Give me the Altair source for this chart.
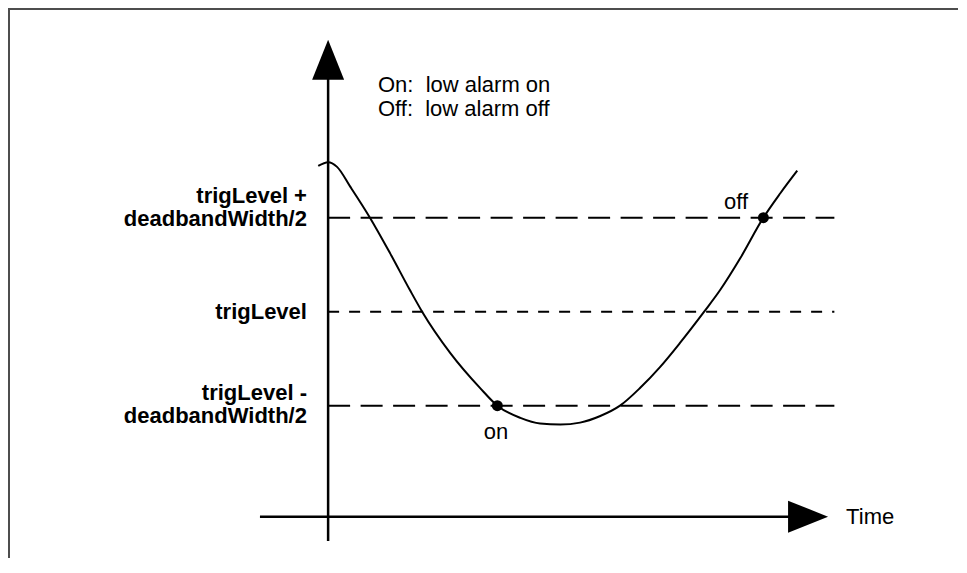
import altair as alt
import pandas as pd

# ---------------- data ----------------
# time in arbitrary units (0 = vertical axis); level in units where
# trigLevel = 0 and deadbandWidth/2 = 1
curve_t = [-0.21, 0.0, 0.19, 0.47, 0.89, 1.32, 1.74, 2.00, 2.60, 3.23, 3.60,
           4.09, 4.51, 4.94, 5.36, 5.79, 6.21, 6.64, 7.06, 7.49, 8.00, 8.34,
           8.77, 9.26, 9.62, 9.98]
curve_v = [1.55, 1.59, 1.54, 1.33, 1.00, 0.62, 0.23, 0.00, -0.44, -0.81, -1.00,
           -1.13, -1.19, -1.20, -1.18, -1.11, -1.00, -0.81, -0.59, -0.33, 0.00, 0.23,
           0.57, 1.00, 1.26, 1.50]

level_values = [1, 0, -1]
level_styles = ["long", "short", "long"]
level_start_t = 0.0
level_end_t = 10.77

event_t = [3.60, 9.26]
event_v = [-1.0, 1.0]
event_labels = ["on", "off"]
event_label_t = [3.57, 8.68]
event_label_v = [-1.28, 1.17]

level_label_text = ["trigLevel +", "deadbandWidth/2", "trigLevel",
                    "trigLevel -", "deadbandWidth/2"]
level_label_v = [1.23, 0.99, 0.0, -0.86, -1.11]
level_label_t = -0.45

note_lines = ["On:\u00a0\u00a0low alarm on", "Off:\u00a0\u00a0low alarm off"]
note_v = [2.41, 2.16]
note_t = 1.06

time_axis_v = -2.18
time_axis_start_t = -1.45
time_arrow_t = 10.21
value_axis_t = 0.0
value_axis_top_v = 2.68
value_axis_bottom_v = -2.44
time_label = ["Time"]
time_label_t = 11.02

W, H = 950, 550
X_DOMAIN = [-6.81, 13.40]
Y_DOMAIN = [-2.62, 3.23]

FONT = "Liberation Sans"

xs = alt.Scale(domain=X_DOMAIN, nice=False, zero=False)
ys = alt.Scale(domain=Y_DOMAIN, nice=False, zero=False)


def X(f):
    return alt.X(f, type="quantitative", scale=xs, axis=None)


def Y(f):
    return alt.Y(f, type="quantitative", scale=ys, axis=None)


# ---------------- tables ----------------
curve_df = pd.DataFrame({"t": curve_t, "v": curve_v})
levels_df = pd.DataFrame({"t0": [level_start_t] * len(level_values),
                          "t1": [level_end_t] * len(level_values),
                          "v": level_values, "style": level_styles})
events_df = pd.DataFrame({"t": event_t, "v": event_v})
event_lab_df = pd.DataFrame({"t": event_label_t, "v": event_label_v, "txt": event_labels})
lvl_lab_df = pd.DataFrame({"t": [level_label_t] * len(level_label_text),
                           "v": level_label_v, "txt": level_label_text})
note_df = pd.DataFrame({"t": [note_t] * len(note_lines), "v": note_v, "txt": note_lines})
time_df = pd.DataFrame({"t": [time_label_t], "v": [time_axis_v], "txt": time_label})
yaxis_df = pd.DataFrame({"t": [value_axis_t], "v0": [value_axis_bottom_v], "v1": [value_axis_top_v]})
xaxis_df = pd.DataFrame({"t0": [time_axis_start_t], "t1": [time_arrow_t], "v": [time_axis_v]})
up_arrow_df = pd.DataFrame({"t": [value_axis_t], "v": [value_axis_top_v]})
right_arrow_df = pd.DataFrame({"t": [time_arrow_t], "v": [time_axis_v]})

# ---------------- layers ----------------
frame_top = alt.Chart(pd.DataFrame({"a": [0]})).mark_rule(
    color="#4d4d4d", strokeWidth=2
).encode(x=alt.value(0), x2=alt.value(W), y=alt.value(1))
frame_left = alt.Chart(pd.DataFrame({"a": [0]})).mark_rule(
    color="#4d4d4d", strokeWidth=2
).encode(x=alt.value(1), y=alt.value(0), y2=alt.value(H))

levels = alt.Chart(levels_df).mark_rule(color="black", strokeWidth=2).encode(
    x=X("t0"), x2="t1", y=Y("v"),
    strokeDash=alt.StrokeDash("style:N", legend=None,
                              scale=alt.Scale(domain=["long", "short"],
                                              range=[[22, 10.5], [11, 10]])),
)

yaxis = alt.Chart(yaxis_df).mark_rule(color="black", strokeWidth=2.5).encode(
    x=X("t"), y=Y("v0"), y2="v1")
xaxis = alt.Chart(xaxis_df).mark_rule(color="black", strokeWidth=2.5).encode(
    x=X("t0"), x2="t1", y=Y("v"))

up_arrow = alt.Chart(up_arrow_df).mark_point(
    shape="M0,-1L0.8,1L-0.8,1Z", size=1600, filled=True, color="black",
    opacity=1, strokeWidth=0
).encode(x=X("t"), y=Y("v"))
right_arrow = alt.Chart(right_arrow_df).mark_point(
    shape="M1,0L-1,-0.8L-1,0.8Z", size=1600, filled=True, color="black",
    opacity=1, strokeWidth=0
).encode(x=X("t"), y=Y("v"))

curve = alt.Chart(curve_df).mark_line(
    color="black", strokeWidth=2, interpolate="monotone"
).encode(x=X("t"), y=Y("v"), order="t:Q")

events = alt.Chart(events_df).mark_circle(size=120, color="black", opacity=1).encode(
    x=X("t"), y=Y("v"))

event_text = alt.Chart(event_lab_df).mark_text(
    font=FONT, fontSize=22, color="black", align="center", baseline="middle"
).encode(x=X("t"), y=Y("v"), text="txt:N")

level_text = alt.Chart(lvl_lab_df).mark_text(
    font=FONT, fontSize=22, fontWeight="bold", color="black",
    align="right", baseline="middle"
).encode(x=X("t"), y=Y("v"), text="txt:N")

note_text = alt.Chart(note_df).mark_text(
    font=FONT, fontSize=22, color="black", align="left", baseline="middle"
).encode(x=X("t"), y=Y("v"), text="txt:N")

time_text = alt.Chart(time_df).mark_text(
    font=FONT, fontSize=22, color="black", align="left", baseline="middle"
).encode(x=X("t"), y=Y("v"), text="txt:N")

chart = alt.layer(
    frame_top, frame_left, levels, yaxis, xaxis, up_arrow, right_arrow,
    curve, events, event_text, level_text, note_text, time_text
).properties(
    width=W, height=H,
    autosize=alt.AutoSizeParams(type="none"),
    padding=0,
).configure_view(strokeWidth=0)

chart.save("out.html", embed_options={"renderer": "svg", "actions": False})
